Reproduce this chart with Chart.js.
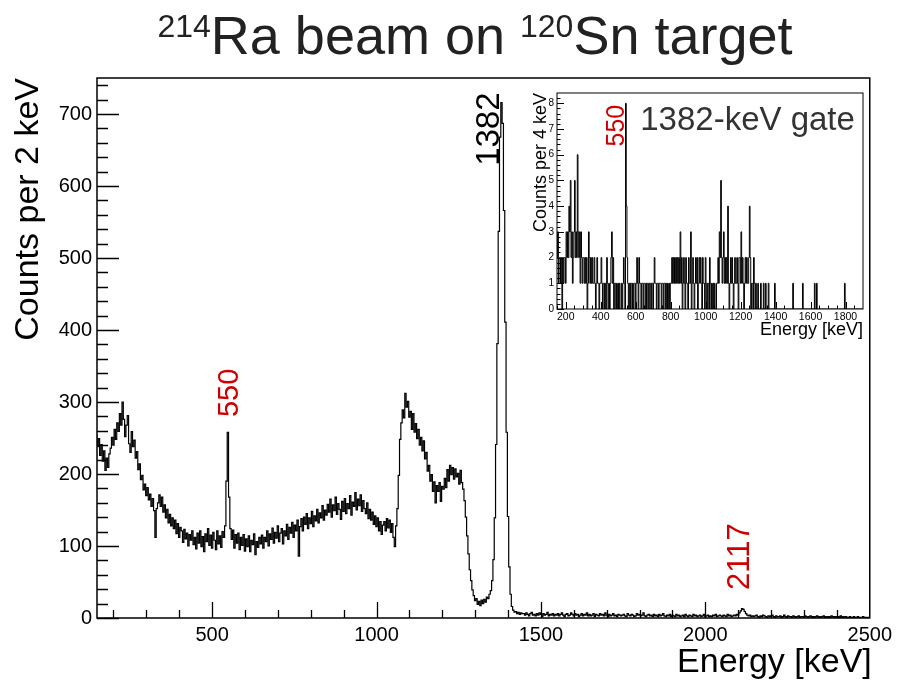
<!DOCTYPE html>
<html>
<head>
<meta charset="utf-8">
<script src="https://cdn.jsdelivr.net/npm/chart.js@4.4.0/dist/chart.umd.min.js"></script>
<style>
  body { margin: 0; background: #fff; }
  #wrap { position: relative; width: 897px; height: 684px; background: #fff; }
  #mainChart { position: absolute; left: 0; top: 0; }
  #insetChart { position: absolute; left: 520px; top: 84px; }
</style>
</head>
<body>
<div id="wrap">
  <canvas id="mainChart" width="897" height="684"></canvas>
  <canvas id="insetChart" width="360" height="262"></canvas>
</div>
<script>
const singlesStart = 150;
const singlesStep = 4;
const singlesCounts = [
  255,238,249,226,241,218,232,205,222,209,228,236,251,240,262,248,271,259,284,268,300,276,252,268,281,
  242,230,259,238,247,222,231,206,214,192,198,178,186,170,181,164,172,155,166,149,112,152,160,171,155,
  168,147,157,139,151,132,144,128,139,124,136,117,131,112,126,121,105,123,110,118,100,116,108,121,102,
  112,96,118,104,121,99,113,92,117,106,124,101,115,97,119,108,95,121,103,114,98,120,112,128,190,
  258,168,124,109,122,97,116,104,118,95,112,101,116,93,110,99,114,92,108,102,117,88,106,98,112,
  103,115,97,112,106,121,100,117,109,125,104,119,111,128,106,118,124,103,121,114,130,109,126,118,133,
  112,129,121,136,86,127,138,121,140,130,145,124,139,131,148,127,142,135,151,132,146,139,156,136,150,
  143,158,147,165,140,157,149,168,144,159,151,137,162,148,166,145,159,152,170,143,161,155,174,150,165,
  156,171,148,163,152,145,160,138,151,136,147,130,142,127,139,121,134,116,129,134,121,138,125,136,119,
  131,112,99,128,152,198,248,271,289,278,312,293,301,279,287,262,284,258,270,249,262,240,251,232,246,
  221,230,204,212,190,199,176,189,160,184,176,188,162,183,179,194,181,206,190,212,199,209,193,207,196,
  201,186,205,188,179,163,140,114,89,67,52,39,31,24,27,19,23,17,25,20,26,22,29,27,33,
  38,52,81,139,241,381,537,668,716,687,566,411,258,141,71,33,16,11,8,9,6,8,5,7,6,
  6,4,7,5,3,6,8,4,5,3,6,4,7,5,2,6,4,5,8,3,5,4,6,3,5,
  4,6,3,5,7,4,2,5,6,3,4,7,5,3,6,4,5,2,4,6,3,5,4,7,3,
  5,3,4,6,2,5,4,3,6,4,5,3,7,4,2,5,3,4,6,3,4,2,5,4,3,
  4,5,3,2,6,4,3,5,4,2,3,6,4,5,3,4,7,3,2,4,5,3,4,2,5,
  3,4,2,5,3,4,6,3,2,4,3,5,2,4,3,2,5,3,4,2,3,4,2,5,3,
  2,4,3,2,5,3,4,2,3,4,2,3,5,2,3,4,2,3,2,4,3,5,2,3,4,
  3,2,4,3,2,5,3,4,2,3,4,3,5,4,7,10,13,12,9,6,4,3,4,2,3,
  2,3,4,2,1,3,2,4,3,2,1,3,2,3,4,2,1,3,2,2,3,1,2,4,2,
  1,3,2,2,1,3,2,1,2,3,1,2,2,1,3,2,1,2,3,1,2,1,2,3,1,
  2,1,2,3,1,2,1,2,1,3,2,1,2,1,2,1,3,1,2,1,2,1,1,2,1,
  1,2,1,1,2,1,0,1,2,1,1,0,1
];

// 1382-keV gated spectrum, counts per 4 keV starting at 150 keV
const gateStart = 150;
const gateStep = 4;
const gateCounts = [
  3,2,3,1,2,2,1,2,0,2,1,2,2,1,3,2,3,2,4,3,5,2,3,1,2,
  3,5,2,3,2,6,3,2,3,1,3,2,1,2,2,1,2,1,2,0,1,3,2,1,2,
  1,2,1,1,2,1,0,1,2,1,1,0,1,1,2,1,0,1,1,0,1,0,2,1,0,
  1,0,1,2,3,1,2,0,1,1,0,1,0,1,0,1,0,0,1,0,1,2,1,0,8,
  4,2,1,0,1,0,1,1,0,1,0,1,1,0,1,2,1,0,2,1,1,0,1,1,0,
  1,1,0,1,0,1,1,0,1,1,0,1,1,0,1,2,1,1,0,1,1,0,1,1,1,
  0,1,1,0,1,1,0,1,0,1,0,1,0,1,1,2,1,2,1,2,1,2,1,2,1,
  2,1,3,1,2,0,1,2,1,0,2,1,1,0,2,1,1,3,0,1,2,1,0,1,2,
  1,2,0,1,2,1,2,1,0,2,1,1,0,2,1,0,1,1,0,2,1,0,1,0,1,
  0,1,0,0,1,1,2,1,3,2,5,2,1,2,3,1,2,1,2,1,4,1,0,1,2,
  1,2,1,0,1,2,1,1,2,1,0,2,2,1,3,1,2,1,0,1,2,1,2,1,1,
  2,4,2,0,1,1,0,2,1,0,1,0,0,1,0,0,0,1,0,0,0,1,0,0,1,
  0,0,0,1,0,0,0,0,0,0,0,0,1,0,0,0,0,0,0,0,0,0,0,0,0,
  0,0,0,0,0,0,0,0,0,0,0,0,0,1,0,0,0,0,0,0,0,0,0,0,0,
  0,0,1,0,0,0,0,0,0,0,0,0,0,0,0,0,0,0,0,1,0,0,1,0,0,
  0,0,0,0,0,0,0,0,0,0,0,0,0,0,0,0,0,0,0,0,0,0,0,0,0,
  0,0,0,0,0,0,0,0,0,0,0,0,1,0,0,0,0,0,0,0,0,0,0,0,0,
  0,0,0,0,0,0,0,0,0,0,0,0,0
];

const xTicks = [500, 1000, 1500, 2000, 2500];
const yTicks = [0, 100, 200, 300, 400, 500, 600, 700];
const insetXTicks = [200, 400, 600, 800, 1000, 1200, 1400, 1600, 1800];
const insetYTicks = [0, 1, 2, 3, 4, 5, 6, 7, 8];

const peakLabels = ["550", "1382", "2117"];

const FONT = '"Liberation Sans", Arial, Helvetica, sans-serif';

// histogram bins -> points at the low edge of each bin, closed at the last edge
function toPoints(start, step, counts) {
  const pts = counts.map((c, i) => ({ x: start + i * step, y: c }));
  pts.push({ x: start + counts.length * step, y: counts[counts.length - 1] });
  return pts;
}

function vText(ctx, text, x, y, size, color, align) {
  ctx.save();
  ctx.translate(x, y);
  ctx.rotate(-Math.PI / 2);
  ctx.font = size + "px " + FONT;
  ctx.fillStyle = color;
  ctx.textAlign = align || "left";
  ctx.textBaseline = "alphabetic";
  ctx.fillText(text, 0, 0);
  ctx.restore();
}

function hText(ctx, text, x, y, size, color, align) {
  ctx.font = size + "px " + FONT;
  ctx.fillStyle = color;
  ctx.textAlign = align || "left";
  ctx.textBaseline = "alphabetic";
  ctx.fillText(text, x, y);
}

// ROOT-like frame: box plus ticks pointing into the plot
function rootFrame(o) {
  return {
    id: "rootFrame",
    afterDatasetsDraw(chart) {
      const { ctx, chartArea: a, scales: { x, y } } = chart;
      ctx.save();
      ctx.strokeStyle = "#000";
      ctx.lineWidth = o.frameWidth;
      ctx.strokeRect(a.left, a.top, a.right - a.left, a.bottom - a.top);

      ctx.lineWidth = o.tickWidth;
      ctx.beginPath();
      const x0 = Math.ceil(x.min / o.xMinor);
      for (let k = x0; k * o.xMinor < x.max; k++) {
        const px = Math.round(x.getPixelForValue(k * o.xMinor)) + 0.5;
        const len = k % o.xSub === 0 ? o.xLen : o.xLen / 2;
        ctx.moveTo(px, a.bottom);
        ctx.lineTo(px, a.bottom - len);
      }
      for (let k = 0; k * o.yMinor < y.max; k++) {
        const py = Math.round(y.getPixelForValue(k * o.yMinor)) + 0.5;
        const len = k % o.ySub === 0 ? o.yLen : o.yLen / 2;
        ctx.moveTo(a.left, py);
        ctx.lineTo(a.left + len, py);
      }
      ctx.stroke();
      ctx.restore();
    }
  };
}

function tickScale(values, size, padding, fit) {
  return {
    grid: { display: false, drawTicks: false },
    border: { display: false },
    afterBuildTicks: (s) => { s.ticks = values.map((v) => ({ value: v })); },
    afterFit: fit,
    ticks: {
      color: "#000",
      font: { family: FONT, size: size },
      padding: padding,
      maxRotation: 0,
      autoSkip: false,
      callback: (v) => String(v)
    }
  };
}

// Main spectrum
const mainLabels = {
  id: "mainLabels",
  afterDraw(chart) {
    const { ctx, chartArea: a, scales: { x, y } } = chart;
    ctx.save();

    // title with superscript mass numbers
    const parts = [["214", 32, 37], ["Ra beam on ", 54, 54], ["120", 32, 37], ["Sn target", 54, 54]];
    let total = 0;
    parts.forEach((p) => { ctx.font = p[1] + "px " + FONT; total += ctx.measureText(p[0]).width; });
    let tx = 475 - total / 2;
    parts.forEach((p) => {
      hText(ctx, p[0], tx, p[2], p[1], "#222");
      tx += ctx.measureText(p[0]).width;
    });

    // axis titles
    vText(ctx, "Counts per 2 keV", a.left - 59, a.top, 34, "#000", "right");
    hText(ctx, "Energy [keV]", a.right + 2, a.bottom + 54, 34, "#000", "right");

    // peak labels
    vText(ctx, peakLabels[0], x.getPixelForValue(547) + 10, y.getPixelForValue(279), 29, "#d00000");
    vText(ctx, peakLabels[1], x.getPixelForValue(1332) + 13, y.getPixelForValue(628), 33, "#000");
    vText(ctx, peakLabels[2], x.getPixelForValue(2100) + 11, y.getPixelForValue(39), 31, "#d00000");
    ctx.restore();
  }
};

new Chart(document.getElementById("mainChart"), {
  type: "line",
  data: {
    datasets: [{
      data: toPoints(singlesStart, singlesStep, singlesCounts),
      stepped: "after",
      borderColor: "#000",
      borderWidth: 1.2,
      pointRadius: 0,
      fill: false
    }]
  },
  options: {
    responsive: false,
    animation: false,
    layout: { padding: { top: 78, right: 25, left: 0, bottom: 0 } },
    plugins: { legend: { display: false }, tooltip: { enabled: false } },
    scales: {
      x: Object.assign({ type: "linear", min: 150, max: 2500 },
        tickScale(xTicks, 20, 5, (s) => { s.height = 66; })),
      y: Object.assign({ type: "linear", min: 0, max: 750 },
        tickScale(yTicks, 20, 5, (s) => { s.width = 97; }))
    }
  },
  plugins: [
    rootFrame({ frameWidth: 1.5, tickWidth: 1.3, xMinor: 100, xSub: 5, xLen: 16, yMinor: 20, ySub: 5, yLen: 22 }),
    mainLabels
  ]
});

// Inset: gated spectrum
const insetLabels = {
  id: "insetLabels",
  afterDraw(chart) {
    const { ctx, chartArea: a, scales: { x, y } } = chart;
    ctx.save();
    vText(ctx, "Counts per 4 keV", a.left - 11, a.top, 18, "#000", "right");
    hText(ctx, "Energy [keV]", a.right, a.bottom + 26, 18, "#000", "right");
    vText(ctx, peakLabels[0], x.getPixelForValue(483) + 9, y.getPixelForValue(6.32), 25, "#d00000");
    hText(ctx, "1382-keV gate", x.getPixelForValue(626), y.getPixelForValue(6.95), 33, "#333");
    ctx.restore();
  }
};

new Chart(document.getElementById("insetChart"), {
  type: "line",
  data: {
    datasets: [{
      data: toPoints(gateStart, gateStep, gateCounts),
      stepped: "after",
      borderColor: "#000",
      borderWidth: 1,
      pointRadius: 0,
      fill: false
    }]
  },
  options: {
    responsive: false,
    animation: false,
    layout: { padding: { top: 5, right: 17, left: 0, bottom: 0 } },
    plugins: { legend: { display: false }, tooltip: { enabled: false } },
    scales: {
      x: Object.assign({ type: "linear", min: 150, max: 1900 },
        tickScale(insetXTicks, 10.5, 2, (s) => { s.height = 37; })),
      y: Object.assign({ type: "linear", min: 0, max: 8.4 },
        tickScale(insetYTicks, 10, 3, (s) => { s.width = 37; }))
    }
  },
  plugins: [
    rootFrame({ frameWidth: 1, tickWidth: 1, xMinor: 50, xSub: 4, xLen: 7, yMinor: 0.2, ySub: 5, yLen: 7 }),
    insetLabels
  ]
});
</script>
</body>
</html>
